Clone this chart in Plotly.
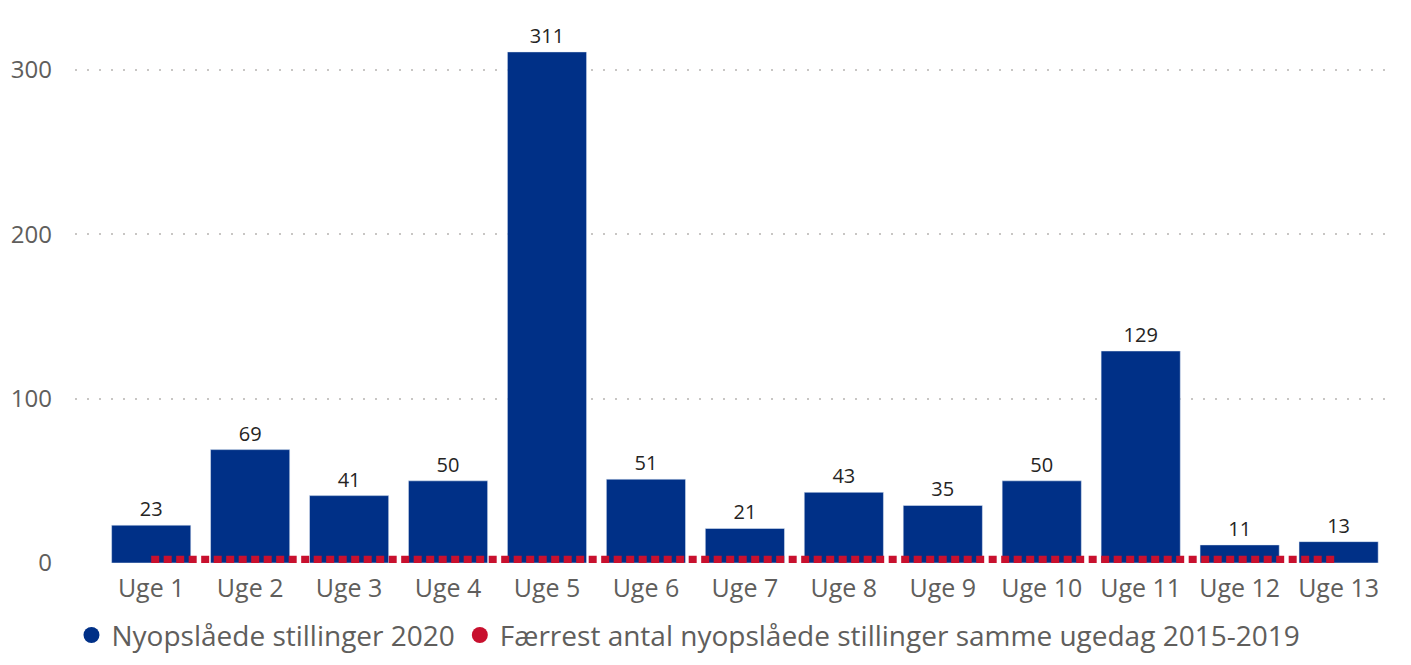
import plotly.graph_objects as go

weeks = [f"Uge {i}" for i in range(1, 14)]
postings_2020 = [23, 69, 41, 50, 311, 51, 21, 43, 35, 50, 129, 11, 13]
fewest_2015_2019 = [2, 2, 2, 2, 2, 2, 2, 2, 2, 2, 2, 2, 2]

blue = "#003087"
red = "#C8102E"
font = "Open Sans, Noto Sans, sans-serif"

fig = go.Figure()
fig.add_trace(go.Bar(
    x=weeks, y=postings_2020, marker_color=blue, name="Nyopslåede stillinger 2020",
    text=postings_2020, textposition="outside", cliponaxis=False,
    textfont=dict(size=20, color="#252423", family=font), showlegend=False,
))
fig.add_trace(go.Scatter(
    x=weeks, y=fewest_2015_2019, mode="lines",
    line=dict(color=red, width=8, dash="8px,4.5px"),
    name="Færrest antal nyopslåede stillinger samme ugedag 2015-2019", showlegend=False,
))
# legend entries with round markers
for label, color in (("Nyopslåede stillinger 2020", blue),
                     ("Færrest antal nyopslåede stillinger samme ugedag 2015-2019", red)):
    fig.add_trace(go.Scatter(
        x=[None], y=[None], mode="markers", name=label,
        marker=dict(color=color, size=22, symbol="circle"),
    ))

# page body has an 8px margin, so the figure is 16px smaller than the window
fig.update_layout(
    width=1395, height=649,
    margin=dict(l=67, r=8, t=2, b=94),
    plot_bgcolor="white", paper_bgcolor="white",
    bargap=0.2,
    font=dict(family=font, color="#605E5C"),
    legend=dict(orientation="h", xref="container", yref="container",
                x=0.0455, y=0.072, xanchor="left", yanchor="top",
                font=dict(size=28, color="#605E5C"), itemwidth=30,
                tracegroupgap=0),
    showlegend=True,
)
fig.update_xaxes(range=[-0.77, 12.57], showgrid=False, showline=False, zeroline=False,
                 tickfont=dict(size=25, color="#605E5C"), ticks="", automargin=False,
                 ticklabelstandoff=8)
fig.update_yaxes(range=[0, 336.5], tickvals=[0, 100, 200, 300], showgrid=True,
                 gridcolor="#C8C6C4", griddash="2px,10px", gridwidth=2, zeroline=False,
                 showline=False, tickfont=dict(size=24, color="#605E5C"),
                 ticklabelstandoff=22, automargin=False)

fig.write_html("out.html")
